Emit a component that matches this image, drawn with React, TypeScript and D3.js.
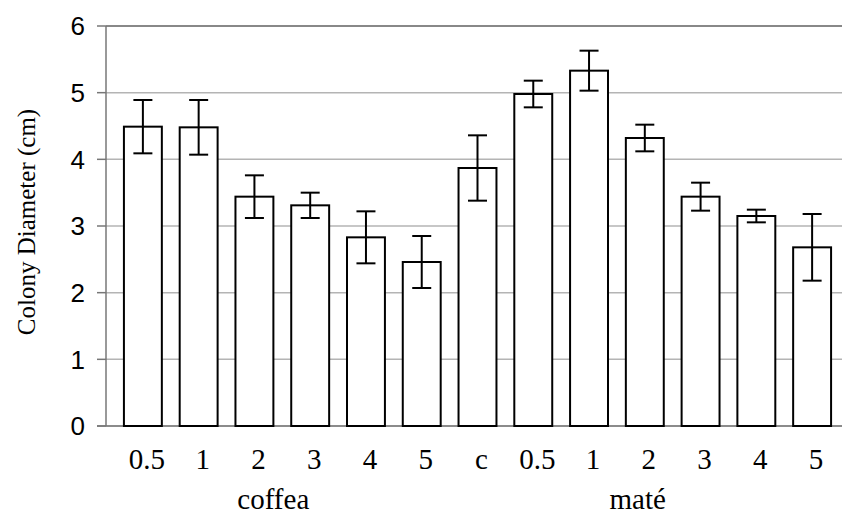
import React from 'react';
import * as d3 from 'd3';

// categories along the x axis (c = control)
const categories = ['0.5', '1', '2', '3', '4', '5', 'c', '0.5', '1', '2', '3', '4', '5'];
const means = [4.49, 4.48, 3.44, 3.31, 2.83, 2.46, 3.87, 4.98, 5.33, 4.32, 3.44, 3.15, 2.68];
const errors = [0.4, 0.41, 0.32, 0.19, 0.39, 0.39, 0.49, 0.2, 0.3, 0.2, 0.21, 0.095, 0.5];
const yTicks = [0, 1, 2, 3, 4, 5, 6];
const groupLabels = ['coffea', 'maté'];
const groupFirst = [0, 7];
const groupLast = [5, 12];

const W = 842;
const H = 516;
const axisX = 106;
const plotTop = 26;
const plotBottom = 426;

const App = () => {
  const x = d3.scaleBand<number>()
    .domain(d3.range(categories.length))
    .range([115, 840])
    .paddingInner(0.32)
    .paddingOuter(0.16);

  const y = d3.scaleLinear().domain([0, 6]).range([plotBottom, plotTop]);

  const cx = (i: number) => (x(i) as number) + x.bandwidth() / 2;
  const capHalf = 9.5;
  const groupNudge = [-9, -35];

  return (
    <svg width={W} height={H} style={{ position: 'absolute', left: 0, top: 0, background: '#fff' }}>
      {/* gridlines */}
      {yTicks.map(t => (
        <line key={'g' + t} x1={axisX} x2={W} y1={y(t)} y2={y(t)}
          stroke={t === 6 ? '#888' : '#b4b4b4'} strokeWidth={t === 6 ? 2 : 1.5} />
      ))}
      {/* y axis */}
      <line x1={axisX} x2={axisX} y1={y(6)} y2={y(0)} stroke="#777" strokeWidth={1.5} />
      {yTicks.map(t => (
        <g key={'t' + t}>
          <line x1={axisX - 9} x2={axisX} y1={y(t)} y2={y(t)} stroke="#777" strokeWidth={1.5} />
          <text x={85} y={y(t)} dy="0.36em" textAnchor="end"
            fontFamily="'Liberation Sans', Arial, sans-serif" fontSize={26} fill="#000">{t}</text>
        </g>
      ))}
      <line x1={axisX - 9} x2={W} y1={y(0)} y2={y(0)} stroke="#777" strokeWidth={1.5} />

      {/* bars */}
      {means.map((m, i) => (
        <rect key={'b' + i} x={x(i)} y={y(m)} width={x.bandwidth()} height={y(0) - y(m)}
          fill="#fff" stroke="#000" strokeWidth={2} />
      ))}
      {/* error bars */}
      {means.map((m, i) => (
        <g key={'e' + i} stroke="#000" strokeWidth={2}>
          <line x1={cx(i)} x2={cx(i)} y1={y(m + errors[i])} y2={y(m - errors[i])} />
          <line x1={cx(i) - capHalf} x2={cx(i) + capHalf} y1={y(m + errors[i])} y2={y(m + errors[i])} />
          <line x1={cx(i) - capHalf} x2={cx(i) + capHalf} y1={y(m - errors[i])} y2={y(m - errors[i])} />
        </g>
      ))}

      {/* category labels */}
      {categories.map((c, i) => (
        <text key={'c' + i} x={cx(i) + 4} y={469} textAnchor="middle"
          fontFamily="'Liberation Serif', 'Times New Roman', serif" fontSize={29} fill="#000">{c}</text>
      ))}
      {groupLabels.map((g, k) => (
        <text key={'grp' + k} x={(cx(groupFirst[k]) + cx(groupLast[k])) / 2 + groupNudge[k]} y={509}
          textAnchor="middle" fontFamily="'Liberation Serif', 'Times New Roman', serif" fontSize={29} fill="#000">{g}</text>
      ))}

      {/* y title */}
      <text transform={`translate(35,${(y(0) + y(6)) / 2 - 4}) rotate(-90)`} textAnchor="middle"
        fontFamily="'Liberation Serif', 'Times New Roman', serif" fontSize={25} fill="#000">
        Colony Diameter (cm)
      </text>
    </svg>
  );
};

export default App;
